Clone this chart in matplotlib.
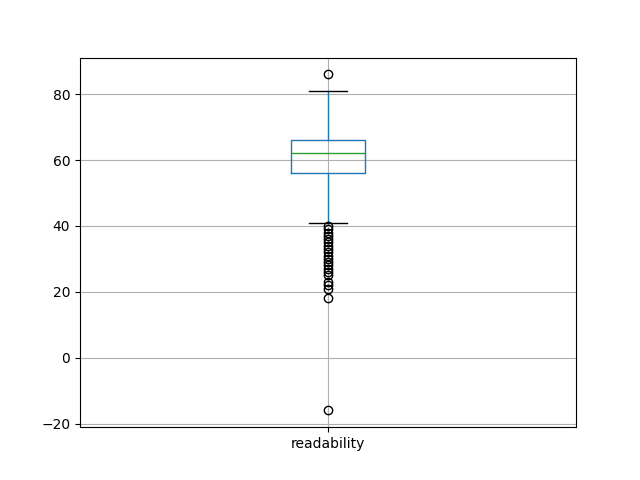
import matplotlib
matplotlib.use("Agg")
import matplotlib.pyplot as plt

label = "readability"
q1, med, q3 = 56, 62, 66
whislo, whishi = 41, 81
fliers = [86, 40, 39, 38, 37, 36, 35, 34, 33, 32, 31, 30, 29, 28, 27, 26, 25, 23, 22, 21, 18, -16]

fig, ax = plt.subplots(figsize=(6.4, 4.8), dpi=100)
stats = [dict(label=label, med=med, q1=q1, q3=q3, whislo=whislo, whishi=whishi, fliers=fliers)]
ax.bxp(stats,
       boxprops=dict(color="#1f77b4"),
       whiskerprops=dict(color="#1f77b4"),
       medianprops=dict(color="#2ca02c"),
       capprops=dict(color="k"),
       flierprops=dict(marker="o", markeredgecolor="k", markerfacecolor="none"))
ax.grid(True)
fig.savefig("out.png")
